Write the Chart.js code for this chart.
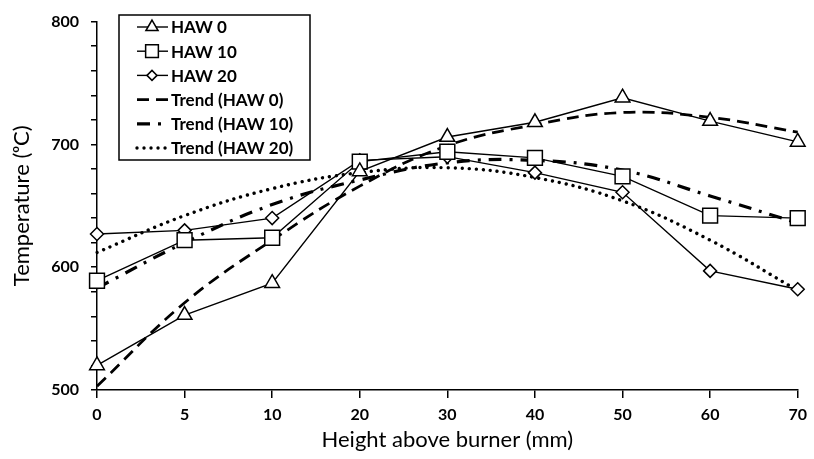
<!DOCTYPE html>
<html>
<head>
<meta charset="utf-8">
<script src="https://cdn.jsdelivr.net/npm/chart.js@4.4.1/dist/chart.umd.min.js"></script>
<style>
  html, body { margin: 0; padding: 0; background: #fff; }
</style>
</head>
<body>
<canvas id="myChart" width="814" height="459"></canvas>
<script>
// data
const heights = ["0", "5", "10", "20", "30", "40", "50", "60", "70"];
const haw0 = [520, 561, 587, 678, 706, 718, 738, 719, 702];
const haw10 = [589, 622, 624, 686, 694, 689, 674, 642, 640];
const haw20 = [627, 630, 640, 687, 690, 677, 661, 597, 582];
const trend0 = [503, 571, 622, 666, 699, 716, 726, 722, 710];
const trend10 = [583, 620, 651, 671, 685, 687, 679, 658, 636];
const trend20 = [612, 642, 664, 677, 681, 673, 654, 622, 581];
const yLabels = [500, 600, 700, 800];

const FONT = "Lato, 'Open Sans', sans-serif";

function markerSeries(label, data, style, radius) {
  return {
    label: label,
    data: data,
    borderColor: "#000",
    borderWidth: 1.4,
    pointStyle: style,
    pointRadius: radius,
    pointBorderWidth: 1.5,
    pointBackgroundColor: "#fff",
    pointBorderColor: "#000",
    tension: 0,
    order: 1,
  };
}

function trendSeries(label, data, dash, width, cap) {
  return {
    label: label,
    data: data,
    borderColor: "#000",
    borderWidth: width,
    borderDash: dash,
    borderCapStyle: cap,
    pointRadius: 0,
    tension: 0.4,
    order: 2,
  };
}

// legend drawn inside the plot, like the Excel one
const legendBox = {
  id: "legendBox",
  afterDatasetsDraw(chart) {
    const ctx = chart.ctx;
    ctx.save();
    ctx.fillStyle = "#fff";
    ctx.fillRect(119, 15, 191, 145);
    ctx.strokeStyle = "#000";
    ctx.lineWidth = 1.5;
    ctx.strokeRect(119, 15, 191, 145);
    chart.data.datasets.forEach((ds, i) => {
      const y = 27 + i * 24.2;
      ctx.beginPath();
      ctx.setLineDash(ds.borderDash || []);
      ctx.lineCap = ds.borderCapStyle || "butt";
      ctx.lineWidth = ds.borderWidth;
      ctx.strokeStyle = "#000";
      ctx.moveTo(137, y);
      ctx.lineTo(168, y);
      ctx.stroke();
      ctx.setLineDash([]);
      if (ds.pointRadius > 0) {
        ctx.fillStyle = "#fff";
        ctx.lineWidth = ds.pointBorderWidth;
        Chart.helpers.drawPoint(
          ctx,
          { pointStyle: ds.pointStyle, radius: ds.pointRadius - 1.5, borderWidth: ds.pointBorderWidth, rotation: 0 },
          152,
          y
        );
      }
      ctx.fillStyle = "#000";
      ctx.font = "bold 17px " + FONT;
      ctx.textBaseline = "middle";
      ctx.textAlign = "left";
      ctx.fillText(ds.label, 171, y + 1);
    });
    ctx.restore();
  },
};

new Chart(document.querySelector("#myChart"), {
  type: "line",
  data: {
    labels: heights,
    datasets: [
      markerSeries("HAW 0", haw0, "triangle", 8.5),
      markerSeries("HAW 10", haw10, "rect", 10.5),
      markerSeries("HAW 20", haw20, "rectRot", 6.5),
      trendSeries("Trend (HAW 0)", trend0, [12, 7], 2.75, "butt"),
      trendSeries("Trend (HAW 10)", trend10, [13, 8, 3, 8], 3.2, "butt"),
      trendSeries("Trend (HAW 20)", trend20, [0.01, 7], 3.4, "round"),
    ],
  },
  options: {
    responsive: false,
    animation: false,
    devicePixelRatio: 1,
    layout: { padding: { top: 15, right: 10, bottom: 0, left: 0 } },
    plugins: { legend: { display: false }, tooltip: { enabled: false } },
    scales: {
      x: {
        offset: false,
        grid: { drawOnChartArea: false, tickLength: 8, color: "#000", lineWidth: 1.5 },
        border: { color: "#000", width: 1.5 },
        ticks: {
          color: "#000",
          font: { family: FONT, size: 16, weight: "bold" },
          padding: 7,
          maxRotation: 0,
          autoSkip: false,
        },
        title: {
          display: true,
          text: "Height above burner (mm)",
          color: "#000",
          font: { family: FONT, size: 22 },
          padding: { top: 0, bottom: 6 },
        },
        afterFit: (scale) => {
          scale.height = 69;
        },
      },
      y: {
        min: 500,
        max: 800,
        grid: { drawOnChartArea: false, tickLength: 6, color: "#000", lineWidth: 1.5 },
        border: { color: "#000", width: 1.5 },
        ticks: {
          stepSize: 20,
          autoSkip: false,
          color: "#000",
          font: { family: FONT, size: 16, weight: "bold" },
          padding: 12,
          callback: (v) => (yLabels.includes(v) ? v : ""),
        },
        title: {
          display: true,
          text: "Temperature (ᵒC)",
          color: "#000",
          font: { family: FONT, size: 22 },
          padding: { top: 9, bottom: 0 },
        },
        afterFit: (scale) => {
          scale.width = 97;
        },
      },
    },
  },
  plugins: [legendBox],
});
</script>
</body>
</html>
